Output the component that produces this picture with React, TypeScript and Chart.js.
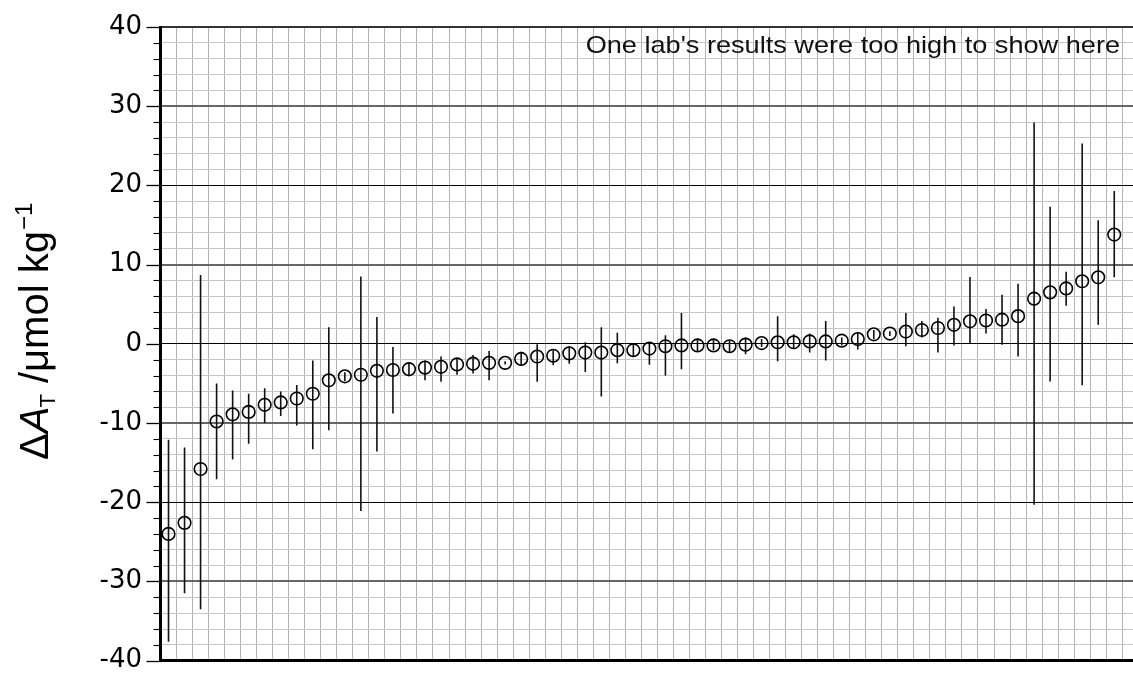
import React, { useEffect, useRef } from "react";
import { Chart, registerables } from "chart.js";

Chart.register(...registerables);

// ---- data ----
const labs = [
  1, 2, 3, 4, 5, 6, 7, 8, 9, 10, 11, 12, 13, 14, 15, 16, 17, 18, 19, 20,
  21, 22, 23, 24, 25, 26, 27, 28, 29, 30, 31, 32, 33, 34, 35, 36, 37, 38, 39, 40,
  41, 42, 43, 44, 45, 46, 47, 48, 49, 50, 51, 52, 53, 54, 55, 56, 57, 58, 59, 60,
];

const deltaAT = [
  -24.0, -22.6, -15.8, -9.8, -8.9, -8.6, -7.7, -7.4, -6.9, -6.3,
  -4.6, -4.1, -3.9, -3.4, -3.3, -3.2, -3.0, -2.9, -2.6, -2.5,
  -2.4, -2.4, -1.9, -1.6, -1.5, -1.2, -1.1, -1.1, -0.8, -0.8,
  -0.6, -0.3, -0.2, -0.2, -0.2, -0.3, -0.1, 0.1, 0.2, 0.2,
  0.3, 0.3, 0.4, 0.6, 1.2, 1.3, 1.55, 1.75, 2.0, 2.4,
  2.85, 2.95, 3.05, 3.5, 5.7, 6.5, 7.0, 7.9, 8.4, 13.8,
];

const errLow = [
  -37.6, -31.5, -33.5, -17.1, -14.6, -12.6, -10.0, -9.1, -10.3, -13.3,
  -10.9, -4.7, -21.1, -13.6, -8.8, -4.1, -4.6, -4.8, -3.9, -3.75,
  -4.6, -2.6, -2.8, -4.8, -2.7, -2.5, -3.55, -6.65, -2.45, -1.6,
  -2.65, -4.0, -3.2, -1.0, -0.8, -1.1, -1.3, -0.4, -2.2, -0.6,
  -1.1, -2.1, -0.2, -0.7, 0.6, 1.0, -0.3, 0.8, -1.1, -0.2,
  0.1, 1.3, -0.1, -1.6, -20.3, -4.76, 4.8, -5.24, 2.4, 8.4,
];

const errHigh = [
  -12.1, -13.1, 8.7, -5.0, -5.9, -6.3, -5.6, -6.0, -5.2, -2.1,
  2.1, -3.6, 8.5, 3.4, -0.4, -2.4, -2.1, -1.6, -1.8, -1.4,
  -0.9, -2.2, -1.0, 0.0, -0.8, -0.3, 0.2, 2.1, 1.4, 0.0,
  0.2, 1.1, 3.9, 0.5, 0.5, 0.4, 0.8, 0.6, 3.5, 1.2,
  1.3, 2.9, 0.8, 1.4, 1.75, 1.6, 3.9, 2.9, 3.3, 4.7,
  8.45, 4.4, 6.2, 7.6, 27.95, 17.3, 9.1, 25.3, 15.6, 19.3,
];

const yMin = -40;
const yMax = 40;
const yMinorStep = 2;
const yMajorStep = 10;

const annotationText = "One lab's results were too high to show here";
const titleDelta = "\u0394";
const titleVar = "A";
const titleSub = "T";
const titleUnit = " /\u03bcmol kg";
const titleSup = "\u22121";

const FONT = '"Liberation Sans", Arial, Helvetica, sans-serif';

const decorPlugin = {
  id: "decor",
  afterDraw(chart: any) {
    const ctx = chart.ctx as CanvasRenderingContext2D;
    const ys = chart.scales.y;
    const area = chart.chartArea;

    // y axis tick marks (long for major, short for minor)
    ctx.save();
    ctx.strokeStyle = "#000";
    for (let v = yMin; v <= yMax; v += yMinorStep) {
      const y = Math.round(ys.getPixelForValue(v)) + 0.5;
      const major = v % yMajorStep === 0;
      const len = major ? 14 : 7;
      ctx.lineWidth = major ? 1.3 : 1.1;
      ctx.beginPath();
      ctx.moveTo(area.left - len, y);
      ctx.lineTo(area.left, y);
      ctx.stroke();
    }
    ctx.restore();

    // annotation at top right
    ctx.save();
    ctx.fillStyle = "#111";
    ctx.font = `24px ${FONT}`;
    ctx.textAlign = "right";
    ctx.textBaseline = "alphabetic";
    ctx.translate(1120, 53);
    ctx.scale(1.13, 1);
    ctx.fillText(annotationText, 0, 0);
    ctx.restore();

    // y axis title: ΔA_T /μmol kg^-1 (rotated)
    ctx.save();
    ctx.fillStyle = "#000";
    ctx.textBaseline = "alphabetic";
    ctx.textAlign = "left";
    ctx.translate(48, 460);
    ctx.rotate(-Math.PI / 2);
    let x = 0;
    ctx.font = `40px ${FONT}`;
    ctx.fillText(titleDelta, x, 0);
    x += ctx.measureText(titleDelta).width;
    ctx.font = `italic 40px ${FONT}`;
    ctx.fillText(titleVar, x, 0);
    x += ctx.measureText(titleVar).width;
    ctx.font = `22px ${FONT}`;
    ctx.fillText(titleSub, x - 1, 7);
    x += ctx.measureText(titleSub).width - 1;
    ctx.font = `40px ${FONT}`;
    ctx.fillText(titleUnit, x, 0);
    x += ctx.measureText(titleUnit).width;
    ctx.font = `24px ${FONT}`;
    ctx.fillText(titleSup, x + 1, -16);
    ctx.restore();
  },
};

export default function App() {
  const canvasRef = useRef<HTMLCanvasElement | null>(null);

  useEffect(() => {
    const canvas = canvasRef.current;
    if (!canvas) return;

    const points = labs.map((l, i) => ({ x: l, y: deltaAT[i] }));
    const bars = labs.map((l, i) => ({ x: l, y: [errLow[i], errHigh[i]] }));

    const chart = new Chart(canvas, {
      type: "scatter",
      data: {
        datasets: [
          {
            type: "scatter",
            label: "ΔA_T",
            data: points,
            order: 0,
            showLine: false,
            pointStyle: "circle",
            pointRadius: 6.3,
            pointHoverRadius: 6.3,
            pointBorderWidth: 1.6,
            pointBorderColor: "#000",
            pointBackgroundColor: "rgba(0,0,0,0)",
            borderColor: "#000",
            backgroundColor: "rgba(0,0,0,0)",
          } as any,
          {
            type: "bar",
            label: "uncertainty",
            data: bars as any,
            order: 1,
            barThickness: 1.6,
            backgroundColor: "#111",
            borderWidth: 0,
            inflateAmount: 0,
            grouped: false,
          } as any,
        ],
      },
      options: {
        animation: false,
        responsive: false,
        maintainAspectRatio: false,
        layout: { autoPadding: false, padding: { left: 0, right: 0, top: 27, bottom: 9 } },
        plugins: {
          legend: { display: false },
          tooltip: { enabled: false },
          title: { display: false },
        },
        scales: {
          x: {
            type: "linear",
            min: 0.5,
            max: 61.17,
            offset: false,
            afterBuildTicks: (scale: any) => {
              const t = labs.map((l) => ({ value: l - 0.5 }));
              t.push({ value: labs[labs.length - 1] + 0.5 });
              scale.ticks = t;
            },
            afterFit: (scale: any) => {
              scale.height = 0;
            },
            ticks: { display: false, autoSkip: false },
            grid: { color: "#b3b3b3", lineWidth: 1, drawTicks: false, offset: false },
            border: { display: true, color: "#000", width: 3 },
          },
          y: {
            type: "linear",
            min: yMin,
            max: yMax,
            offset: false,
            afterFit: (scale: any) => {
              scale.width = 160.5;
            },
            ticks: {
              stepSize: yMinorStep,
              autoSkip: false,
              padding: 18.5,
              color: "#000",
              font: { family: '"DejaVu Sans", "Liberation Sans", Arial, sans-serif', size: 26, lineHeight: 0.6 },
              callback: (v: any) => (Number(v) % yMajorStep === 0 ? String(v) : ""),
            },
            grid: {
              drawTicks: false,
              offset: false,
              color: (ctx: any) => {
                const v = ctx.tick ? ctx.tick.value : 0;
                if (v === yMax) return "#333";
                if (v % 20 === 0) return "#000";
                if (v % 10 === 0) return "#666";
                return "#c6c6c6";
              },
              lineWidth: (ctx: any) => {
                const v = ctx.tick ? ctx.tick.value : 0;
                if (v === yMax) return 2;
                if (v % 20 === 0) return 1;
                if (v % 10 === 0) return 2;
                return 1;
              },
            },
            border: { display: true, color: "#000", width: 3 },
          },
        },
      },
      plugins: [decorPlugin],
    });

    return () => {
      chart.destroy();
    };
  }, []);

  return (
    <div style={{ position: "absolute", left: 0, top: 0, width: 1133, height: 687, background: "#fff" }}>
      <canvas ref={canvasRef} width={1133} height={687} style={{ display: "block", width: 1133, height: 687 }} />
    </div>
  );
}
